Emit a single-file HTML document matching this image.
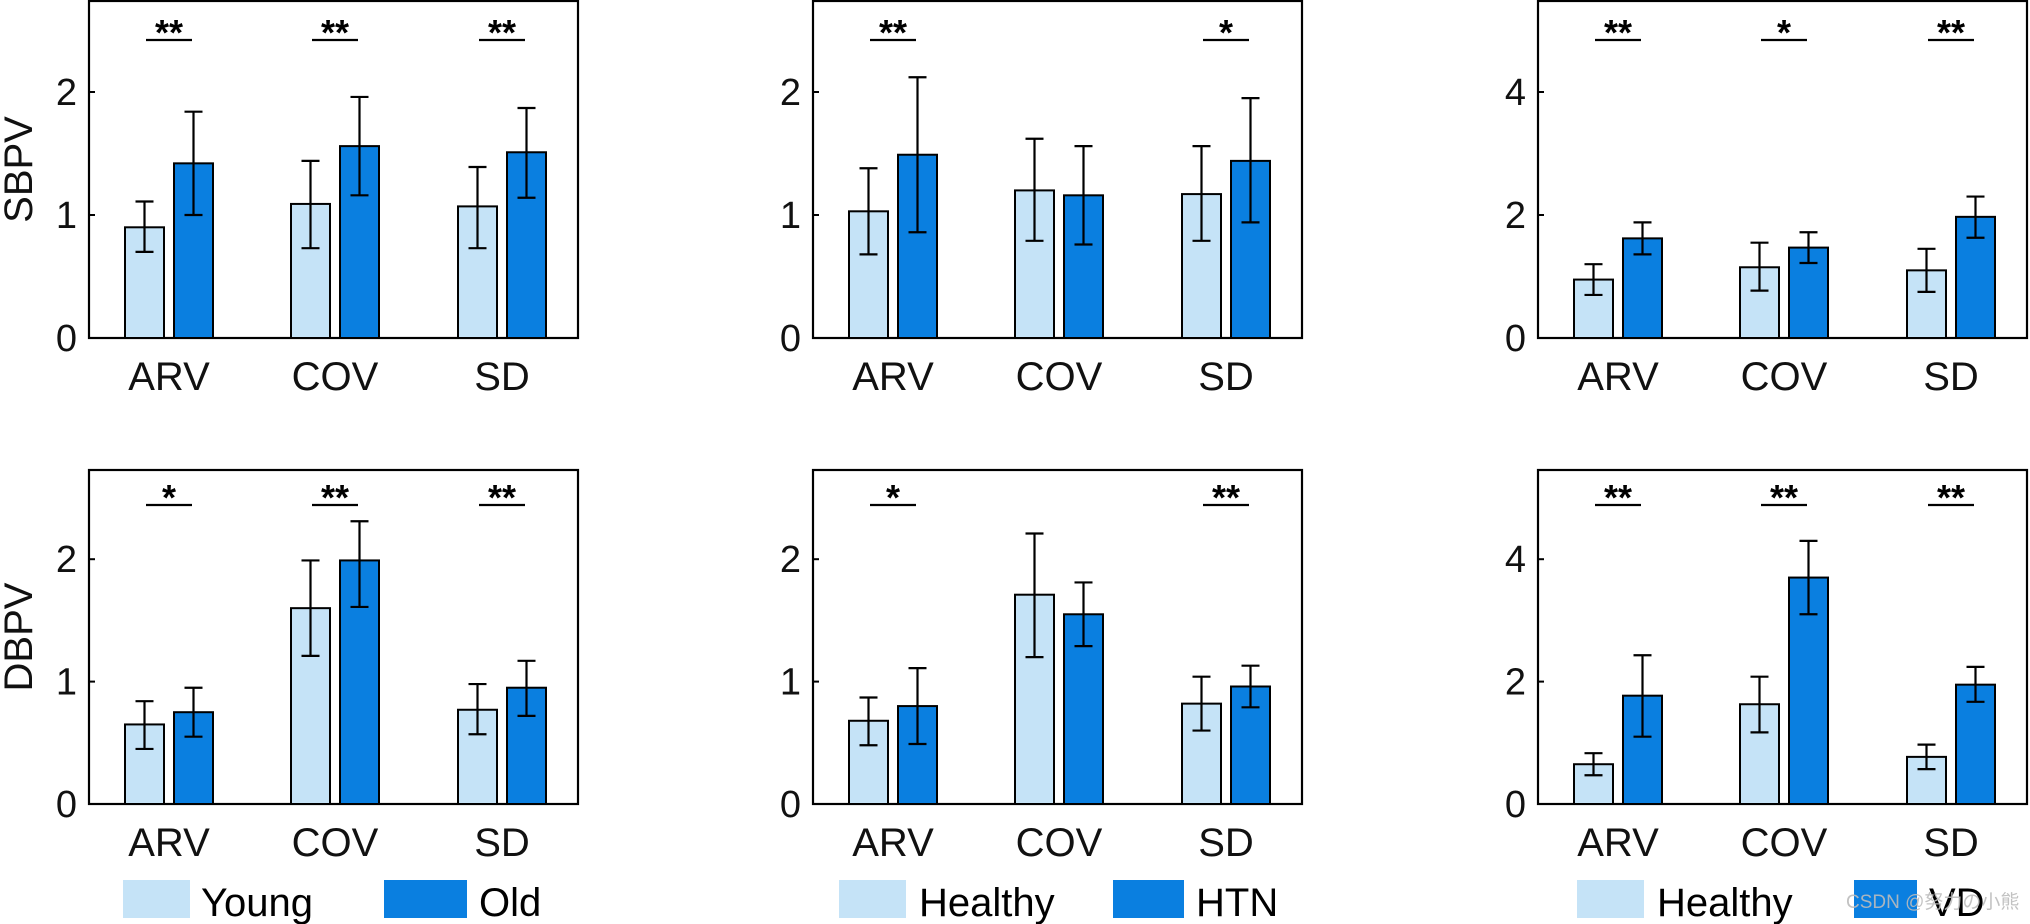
<!DOCTYPE html>
<html><head><meta charset="utf-8"><style>
html,body{margin:0;padding:0;background:#fff;}
svg{display:block;font-family:"Liberation Sans","Noto Sans CJK SC",sans-serif;}
</style></head><body>
<svg id="fig" width="2030" height="924" xmlns="http://www.w3.org/2000/svg"></svg>
<script>
const categories = ["ARV","COV","SD"];
const p1A=[0.90,1.09,1.07], p1B=[1.42,1.56,1.51];
const p1Alo=[0.70,0.73,0.73], p1Ahi=[1.11,1.44,1.39], p1Blo=[1.00,1.16,1.14], p1Bhi=[1.84,1.96,1.87];
const p1Sig=["**","**","**"];
const p2A=[1.03,1.20,1.17], p2B=[1.49,1.16,1.44];
const p2Alo=[0.68,0.79,0.79], p2Ahi=[1.38,1.62,1.56], p2Blo=[0.86,0.76,0.94], p2Bhi=[2.12,1.56,1.95];
const p2Sig=["**","","*"];
const p3A=[0.95,1.15,1.10], p3B=[1.62,1.47,1.97];
const p3Alo=[0.70,0.77,0.75], p3Ahi=[1.20,1.55,1.45], p3Blo=[1.36,1.22,1.63], p3Bhi=[1.88,1.72,2.30];
const p3Sig=["**","*","**"];
const p4A=[0.65,1.60,0.77], p4B=[0.75,1.99,0.95];
const p4Alo=[0.45,1.21,0.57], p4Ahi=[0.84,1.99,0.98], p4Blo=[0.55,1.61,0.72], p4Bhi=[0.95,2.31,1.17];
const p4Sig=["*","**","**"];
const p5A=[0.68,1.71,0.82], p5B=[0.80,1.55,0.96];
const p5Alo=[0.48,1.20,0.60], p5Ahi=[0.87,2.21,1.04], p5Blo=[0.49,1.29,0.79], p5Bhi=[1.11,1.81,1.13];
const p5Sig=["*","","**"];
const p6A=[0.65,1.63,0.77], p6B=[1.77,3.70,1.95];
const p6Alo=[0.47,1.17,0.57], p6Ahi=[0.83,2.08,0.97], p6Blo=[1.10,3.10,1.67], p6Bhi=[2.43,4.30,2.24];
const p6Sig=["**","**","**"];
const ticksSmall=[0,1,2], ticksLarge=[0,2,4];
const legendA=["Young","Healthy","Healthy"], legendB=["Old","HTN","VD"];

const NS="http://www.w3.org/2000/svg", svg=document.getElementById("fig");
function el(t,a,txt){const e=document.createElementNS(NS,t);for(const k in a)e.setAttribute(k,a[k]);if(txt!==undefined)e.textContent=txt;svg.appendChild(e);return e;}
const LIGHT="#c5e3f7", DARK="#0a7fe0";

function panel(px,top,axisY,unit,ticks,A,B,Alo,Ahi,Blo,Bhi,sig,ylab,sigY,name){
  const W=489, y=v=>axisY-v*unit, offs=[80,246,413];
  const f=el("rect",{x:px,y:top,width:W,height:axisY-top,fill:"none",stroke:"#000","stroke-width":2.2});
  
  
  ticks.forEach(t=>{
    const tl=el("text",{x:px-12,y:y(t)+13,"text-anchor":"end","font-size":38,fill:"#111"},t);
    
    
    const tk=el("line",{x1:px,x2:px+6,y1:y(t),y2:y(t),stroke:"#000","stroke-width":2});
    
    
  });
  categories.forEach((c,i)=>{
    const cx=px+offs[i];
    [[A,Alo,Ahi,LIGHT,cx-44],[B,Blo,Bhi,DARK,cx+5]].forEach((s,j)=>{
      const v=s[0][i], bx=s[4];
      const r=el("rect",{x:bx,y:y(v),width:39,height:axisY-y(v),fill:s[3],stroke:"#000","stroke-width":2});
      
      
      const ex=bx+19.5, lo=y(s[1][i]), hi=y(s[2][i]);
      const e=el("path",{d:`M${ex} ${lo}V${hi}M${ex-9} ${lo}h18M${ex-9} ${hi}h18`,stroke:"#000","stroke-width":2.2,fill:"none"});
      
      
    });
    const lab=el("text",{x:cx,y:axisY+52,"text-anchor":"middle","font-size":40,fill:"#111"},c);
    
    
    if(sig[i]){
      const sl=el("line",{x1:cx-23,x2:cx+23,y1:sigY,y2:sigY,stroke:"#000","stroke-width":2.2});
      
      
      const st=el("text",{x:cx,y:sigY+5,"text-anchor":"middle","font-size":36,"font-weight":"bold",fill:"#000"},sig[i]);
      
      
    }
  });
  if(ylab){
    const cy=(top+axisY)/2;
    const yl=el("text",{x:0,y:0,transform:`translate(32,${cy}) rotate(-90)`,"text-anchor":"middle","font-size":40,fill:"#111"},ylab);
    
    
  }
}
panel(89,1,338,123,ticksSmall,p1A,p1B,p1Alo,p1Ahi,p1Blo,p1Bhi,p1Sig,"SBPV",40,"p1");
panel(813,1,338,123,ticksSmall,p2A,p2B,p2Alo,p2Ahi,p2Blo,p2Bhi,p2Sig,"",40,"p2");
panel(1538,1,338,61.5,ticksLarge,p3A,p3B,p3Alo,p3Ahi,p3Blo,p3Bhi,p3Sig,"",40,"p3");
panel(89,470,804,122.4,ticksSmall,p4A,p4B,p4Alo,p4Ahi,p4Blo,p4Bhi,p4Sig,"DBPV",505,"p4");
panel(813,470,804,122.4,ticksSmall,p5A,p5B,p5Alo,p5Ahi,p5Blo,p5Bhi,p5Sig,"",505,"p5");
panel(1538,470,804,61.2,ticksLarge,p6A,p6B,p6Alo,p6Ahi,p6Blo,p6Bhi,p6Sig,"",505,"p6");

const legX=[[123,201,384,479],[839,919,1113,1196],[1577,1657,1854,1929]];
legX.forEach((L,i)=>{
  const s1=el("rect",{x:L[0],y:880,width:67,height:38,fill:LIGHT});
  
  
  const t1=el("text",{x:L[1],y:916,"font-size":40,fill:"#000"},legendA[i]);
  
  
  const s2=el("rect",{x:L[2],y:880,width:L[3]-L[2]-12,height:38,fill:DARK});
  
  
  const t2=el("text",{x:L[3],y:916,"font-size":40,fill:"#000"},legendB[i]);
  
  
});
const wm=el("text",{x:1846,y:908,"font-size":19,fill:"#bbb","fill-opacity":0.9},"CSDN @努力の小熊");


</script>
</body></html>
